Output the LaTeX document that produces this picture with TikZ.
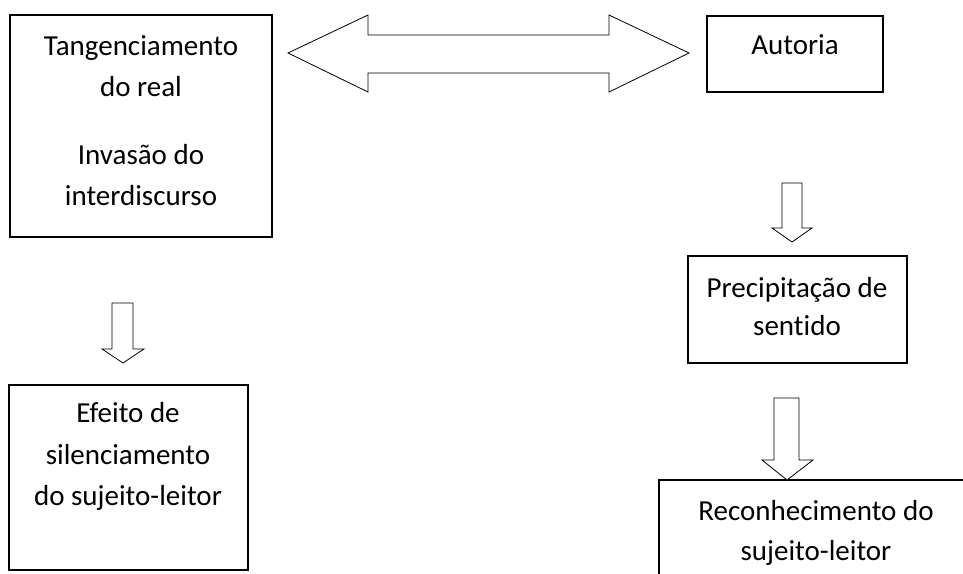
\documentclass[tikz,border=0pt]{standalone}
\usepackage{fontspec}
\setmainfont{Carlito}[Ligatures=NoCommon]
\begin{document}
\begin{tikzpicture}[x=1pt,y=-1pt,
  box/.style={draw=black,line width=1.1pt,fill=white},
  blockarrow/.style={draw=black,line width=0.8pt,fill=white,line join=miter},
  txt/.style={anchor=base,inner sep=0pt,font=\fontsize{29}{40}\selectfont}]
\useasboundingbox (0,0) rectangle (963,573);
\clip (0,0) rectangle (963,573);

% boxes
\draw[box] (10,15) rectangle (272,237);
\coordinate (tang) at (141,126);
\draw[box] (707,16) rectangle (883,92);
\coordinate (aut) at (795,54);
\draw[box] (688,256) rectangle (907,363);
\coordinate (prec) at (797,310);
\draw[box] (9,385) rectangle (248,570);
\coordinate (efei) at (128,478);
\draw[box] (659,480) rectangle (975,620);
\coordinate (reco) at (816,540);

% box texts
\node[txt] (t1) at (141,55) {Tangenciamento};
\node[txt] (t2) at (141,96) {do real};
\node[txt] (t3) at (141,164) {Invasão do};
\node[txt] (t4) at (141,205) {interdiscurso};
\node[txt] (a1) at (795,54) {Autoria};
\node[txt] (p1) at (797,297) {Precipitação de};
\node[txt] (p2) at (797,335) {sentido};
\node[txt] (e1) at (128,422) {Efeito de};
\node[txt] (e2) at (128,464) {silenciamento};
\node[txt] (e3) at (128,505) {do sujeito-leitor};
\node[txt] (r1) at (816,520) {Reconhecimento do};
\node[txt] (r2) at (816,560) {sujeito-leitor};

% double block arrow between the top boxes
\draw[blockarrow] (288,53) -- (368,15) -- (368,35) -- (609,35) -- (609,15)
  -- (689,53) -- (609,92) -- (609,73) -- (368,73) -- (368,92) -- cycle;

% downward block arrows
\draw[blockarrow] (782,183) -- (802,183) -- (802,228) -- (812,228) -- (792,242)
  -- (772,228) -- (782,228) -- cycle;
\draw[blockarrow] (112,303) -- (133,303) -- (133,349) -- (144,349) -- (123,363)
  -- (102,349) -- (112,349) -- cycle;
\draw[blockarrow] (774,398) -- (799,398) -- (799,460) -- (813,460) -- (787,480)
  -- (762,460) -- (774,460) -- cycle;
\end{tikzpicture}
\end{document}
